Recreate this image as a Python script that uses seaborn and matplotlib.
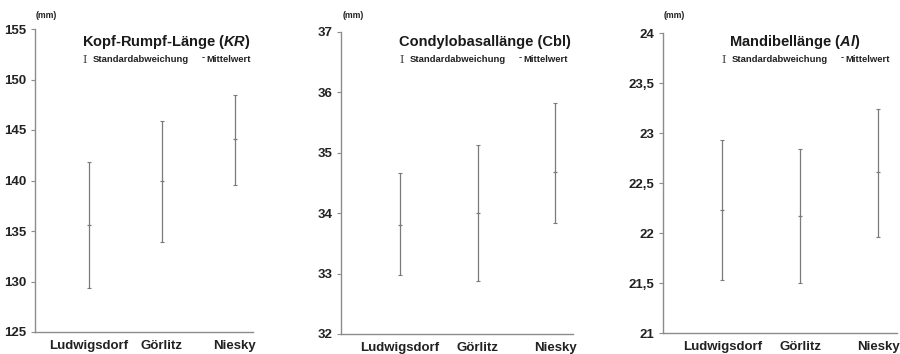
import numpy as np
import pandas as pd
import matplotlib
matplotlib.use("Agg")
import matplotlib.pyplot as plt
import seaborn as sns

# ---- data ----
places = ["Ludwigsdorf", "Görlitz", "Niesky"]

kr_mean = [135.6, 140.0, 144.1]
kr_low = [129.4, 133.9, 139.6]
kr_high = [141.8, 145.9, 148.5]

cbl_mean = [33.81, 34.00, 34.69]
cbl_low = [32.97, 32.88, 33.84]
cbl_high = [34.66, 35.13, 35.82]

al_mean = [22.23, 22.17, 22.61]
al_low = [21.53, 21.50, 21.96]
al_high = [22.93, 22.84, 23.24]

kr_ticks = [125, 130, 135, 140, 145, 150, 155]
cbl_ticks = [32, 33, 34, 35, 36, 37]
al_ticks = [21, 21.5, 22, 22.5, 23, 23.5, 24]
al_ticklabels = ["21", "21,5", "22", "22,5", "23", "23,5", "24"]

sns.set_style("white")
plt.rcParams["font.family"] = ["Liberation Sans", "DejaVu Sans"]
plt.rcParams["mathtext.fontset"] = "custom"
plt.rcParams["mathtext.it"] = "Liberation Sans:italic:bold"
plt.rcParams["mathtext.rm"] = "Liberation Sans:bold"

W, H = 900, 354
fig = plt.figure(figsize=(9, 3.54), dpi=100)

def px_box(x0, x1, ytop, ybot):
    return [x0 / W, 1 - ybot / H, (x1 - x0) / W, (ybot - ytop) / H]

panels = [
    dict(box=px_box(35, 253, 29, 332), mean=kr_mean, low=kr_low, high=kr_high,
         ticks=kr_ticks, labels=[str(t) for t in kr_ticks], xlim=(-0.74, 2.25),
         title=r"Kopf-Rumpf-Länge ($KR$)", title_x=166, leg_x=85, mm_x=36),
    dict(box=px_box(341, 573, 32, 334), mean=cbl_mean, low=cbl_low, high=cbl_high,
         ticks=cbl_ticks, labels=[str(t) for t in cbl_ticks], xlim=(-0.76, 2.23),
         title="Condylobasallänge (Cbl)", title_x=485, leg_x=402, mm_x=343),
    dict(box=px_box(663, 897, 33, 333), mean=al_mean, low=al_low, high=al_high,
         ticks=al_ticks, labels=al_ticklabels, xlim=(-0.76, 2.24),
         title=r"Mandibellänge ($Al$)", title_x=795, leg_x=724, mm_x=664),
]

line_col = "#7a7a7a"
spine_col = "#8c8c8c"
small = dict(fontsize=6.8, fontweight="bold", color="#222222", va="center")

for p in panels:
    ax = fig.add_axes(p["box"])
    df = pd.DataFrame({"place": places, "mean": p["mean"]})
    sns.pointplot(data=df, x="place", y="mean", ax=ax, linestyle="none",
                  marker="_", markersize=3, markeredgewidth=0.9,
                  color=line_col, errorbar=None)
    pos = np.arange(len(places))
    m = np.array(p["mean"])
    yerr = [m - np.array(p["low"]), np.array(p["high"]) - m]
    ax.errorbar(pos, m, yerr=yerr, fmt="none", ecolor=line_col, elinewidth=0.9,
                capsize=1.2, capthick=0.8)
    ax.set_xlim(*p["xlim"])
    ax.set_ylim(p["ticks"][0], p["ticks"][-1])
    ax.set_yticks(p["ticks"])
    ax.set_yticklabels(p["labels"], fontsize=9.5, fontweight="bold", color="#222222")
    ax.set_xticks(pos)
    ax.set_xticklabels(places, fontsize=9.5, fontweight="bold", color="#222222")
    ax.tick_params(axis="x", length=0, pad=6)
    ax.tick_params(axis="y", length=3, width=0.8, color=spine_col, pad=3, left=True)
    ax.set_xlabel("")
    ax.set_ylabel("")
    for s in ["top", "right"]:
        ax.spines[s].set_visible(False)
    for s in ["left", "bottom"]:
        ax.spines[s].set_color(spine_col)
        ax.spines[s].set_linewidth(1.0)

    fig.text(p["title_x"] / W, 1 - 42 / H, p["title"], ha="center", va="center",
             fontsize=10.5, fontweight="bold", color="#1a1a1a")
    lx = p["leg_x"]
    fig.text(lx / W, 1 - 60 / H, "I", ha="center", va="center",
             fontsize=8, family="DejaVu Serif", color="#444444")
    fig.text((lx + 8) / W, 1 - 60 / H, "Standardabweichung", ha="left", **small)
    fig.text((lx + 118) / W, 1 - 58 / H, "-", ha="center", **small)
    fig.text((lx + 166) / W, 1 - 60 / H, "Mittelwert", ha="right", **small)
    fig.text(p["mm_x"] / W, 1 - 15 / H, "(mm)", ha="left", va="center",
             fontsize=6.3, fontweight="bold", color="#222222")

fig.savefig("out.png", dpi=100, facecolor="white")
